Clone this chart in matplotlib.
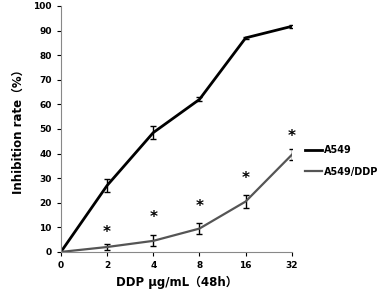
import matplotlib
matplotlib.use("Agg")
import matplotlib.pyplot as plt
from matplotlib.lines import Line2D

plt.rcParams['font.family'] = ['DejaVu Sans', 'Noto Sans CJK SC']

# Data
doses = ["0", "2", "4", "8", "16", "32"]
a549 = [0, 27, 48.5, 62, 87, 91.7]
a549_err = [0, 2.5, 2.5, 0.8, 0.5, 0.7]
ddp = [0, 2, 4.5, 9.5, 20.5, 39.5]
ddp_err = [0, 1.2, 2.2, 2.2, 2.8, 2.2]
star_y = [8, 14, 18.5, 30, 47]

x = list(range(len(doses)))

fig = plt.figure(figsize=(3.83, 2.95), dpi=100)
ax = fig.add_axes([0.159, 0.146, 0.603, 0.834])

ax.errorbar(x, a549, yerr=a549_err, color='black', lw=2, capsize=2,
            elinewidth=1, capthick=1)
ax.errorbar(x, ddp, yerr=ddp_err, color='#555555', lw=1.6, capsize=2,
            elinewidth=1, capthick=1, ecolor='black')

for xi, yi in zip(x[1:], star_y):
    ax.text(xi, yi, '*', ha='center', va='center', fontsize=11,
            fontweight='bold')

ax.set_xlim(0, 5)
ax.set_ylim(0, 100)
ax.set_xticks(x)
ax.set_xticklabels(doses)
ax.set_yticks(range(0, 101, 10))
ax.tick_params(labelsize=6.5, length=3, width=0.8)
for lab in ax.get_xticklabels() + ax.get_yticklabels():
    lab.set_fontweight('bold')
ax.spines['top'].set_visible(False)
ax.spines['right'].set_visible(False)
ax.spines['left'].set_color('#888888')
ax.spines['bottom'].set_color('#888888')

ax.set_xlabel('DDP μg/mL（48h）', fontsize=8.5, fontweight='bold',
              family=['DejaVu Sans', 'Noto Sans CJK SC'], labelpad=4)
ax.set_ylabel('Inhibition rate（%）', fontsize=8.5, fontweight='bold',
              family=['DejaVu Sans', 'Noto Sans CJK SC'], labelpad=6)

handles = [Line2D([], [], color='black', lw=2),
           Line2D([], [], color='#555555', lw=1.6)]
leg = ax.legend(handles, ['A549', 'A549/DDP'], loc='center left',
                bbox_to_anchor=(1.02, 0.37), frameon=False,
                fontsize=7, handlelength=1.7, handletextpad=0.2,
                labelspacing=1.2)
for t in leg.get_texts():
    t.set_fontweight('bold')

fig.savefig('out.png', dpi=100)
